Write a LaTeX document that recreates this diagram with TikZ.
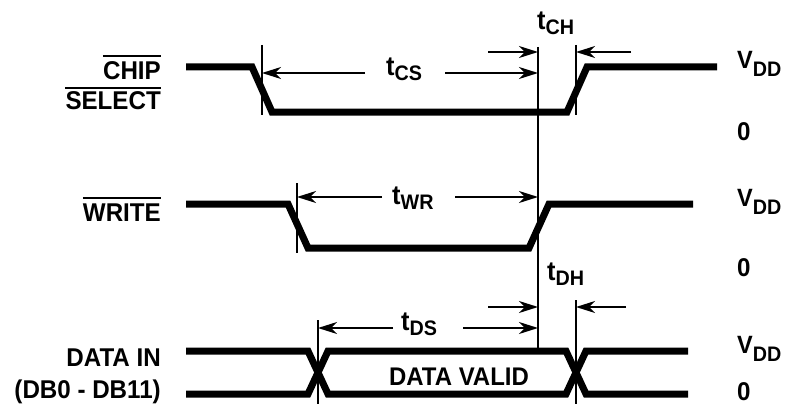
\documentclass[tikz,border=0pt]{standalone}
\usepackage{fontspec}
\setmainfont[FakeStretch=0.94]{Liberation Sans}
\usetikzlibrary{arrows.meta}
\newcommand{\tlab}[1]{{\fontsize{27}{30}\selectfont t}\raisebox{-5pt}{\fontsize{21}{23}\selectfont #1}}
\newcommand{\vdd}{{\fontsize{25}{28}\selectfont V}\raisebox{-8pt}{\fontsize{21}{23}\selectfont DD}}
\begin{document}
\begin{tikzpicture}[x=1pt,y=-1pt,
  sig/.style={line width=7pt},
  guide/.style={line width=1.5pt},
  dim/.style={line width=1.6pt,-{Stealth[length=19pt,width=12pt,inset=6pt]}},
  bar/.style={line width=1.6pt},
  lbl/.style={font=\bfseries\fontsize{25.7}{29}\selectfont, inner sep=0pt, anchor=base east},
  lvl/.style={font=\bfseries\fontsize{25.7}{29}\selectfont, inner sep=0pt, anchor=base west},
  tl/.style={font=\bfseries, inner sep=0pt, anchor=base west}]
\useasboundingbox (0,0) rectangle (787,404);
% signals
\draw[sig] (186,67) -- (252,67) -- (272,112) -- (567,112) -- (587,67) -- (717,67);
\draw[sig] (186,204) -- (288,204) -- (308,248) -- (529,248) -- (549,204) -- (693,204);
\draw[sig] (186,351) -- (308,351) -- (328,394) -- (566,394) -- (586,351) -- (688,351);
\draw[sig] (186,394) -- (308,394) -- (328,351) -- (566,351) -- (586,394) -- (688,394);
% guide lines
\coordinate (mainT) at (538,47); \coordinate (mainB) at (538,348);
\coordinate (csLT) at (262,45); \coordinate (csLB) at (262,115);
\coordinate (csRT) at (576,45); \coordinate (csRB) at (576,115);
\coordinate (wrT) at (297,183); \coordinate (wrB) at (297,253);
\coordinate (dLT) at (318,320); \coordinate (dLB) at (318,404);
\coordinate (dRT) at (576,300); \coordinate (dRB) at (576,404);
\draw[guide] (mainT) -- (mainB);
\draw[guide] (csLT) -- (csLB);
\draw[guide] (csRT) -- (csRB);
\draw[guide] (wrT) -- (wrB);
\draw[guide] (dLT) -- (dLB);
\draw[guide] (dRT) -- (dRB);
% dimension arrows
\coordinate (a1) at (365,73); \coordinate (a1t) at (262,73);
\coordinate (a2) at (445,73); \coordinate (a2t) at (538,73);
\coordinate (a3) at (488,52); \coordinate (a3t) at (538,52);
\coordinate (a4) at (631,52); \coordinate (a4t) at (576,52);
\coordinate (a5) at (382,197); \coordinate (a5t) at (297,197);
\coordinate (a6) at (455,197); \coordinate (a6t) at (538,197);
\coordinate (a7) at (393,328); \coordinate (a7t) at (318,328);
\coordinate (a8) at (463,328); \coordinate (a8t) at (538,328);
\coordinate (a9) at (488,307); \coordinate (a9t) at (538,307);
\coordinate (a10) at (626,307); \coordinate (a10t) at (576,307);
\draw[dim] (a1) -- (a1t);
\draw[dim] (a2) -- (a2t);
\draw[dim] (a3) -- (a3t);
\draw[dim] (a4) -- (a4t);
\draw[dim] (a5) -- (a5t);
\draw[dim] (a6) -- (a6t);
\draw[dim] (a7) -- (a7t);
\draw[dim] (a8) -- (a8t);
\draw[dim] (a9) -- (a9t);
\draw[dim] (a10) -- (a10t);
% timing labels
\node[tl] (tcs) at (386,76) {\tlab{CS}};
\node[tl] (tch) at (537,30) {\tlab{CH}};
\node[tl] (twr) at (392,204) {\tlab{WR}};
\node[tl] (tds) at (401,330) {\tlab{DS}};
\node[tl] (tdh) at (547,280) {\tlab{DH}};
% signal names
\node[lbl] (chip) at (161,79) {CHIP};
\node[lbl] (sel) at (161,110) {SELECT};
\node[lbl] (wr) at (161,221) {WRITE};
\node[lbl] (din) at (161,366) {DATA IN};
\node[lbl] (db) at (161,398) {(DB0 - DB11)};
\draw[bar] ([yshift=5pt]chip.north west) -- ([yshift=5pt]chip.north east);
\draw[bar] ([yshift=4pt]sel.north west) -- ([yshift=4pt]sel.north east);
\draw[bar] ([yshift=5pt]wr.north west) -- ([yshift=5pt]wr.north east);
\node[font=\bfseries\fontsize{25.5}{29}\selectfont, inner sep=0pt, anchor=base] (dv) at (459,385) {DATA VALID};
% levels
\node[tl] (v1) at (737,69) {\vdd};
\node[lvl] (z1) at (737,140) {0};
\node[tl] (v2) at (737,206) {\vdd};
\node[lvl] (z2) at (737,276) {0};
\node[tl] (v3) at (737,353) {\vdd};
\node[lvl] (z3) at (737,400) {0};
\end{tikzpicture}
\end{document}
